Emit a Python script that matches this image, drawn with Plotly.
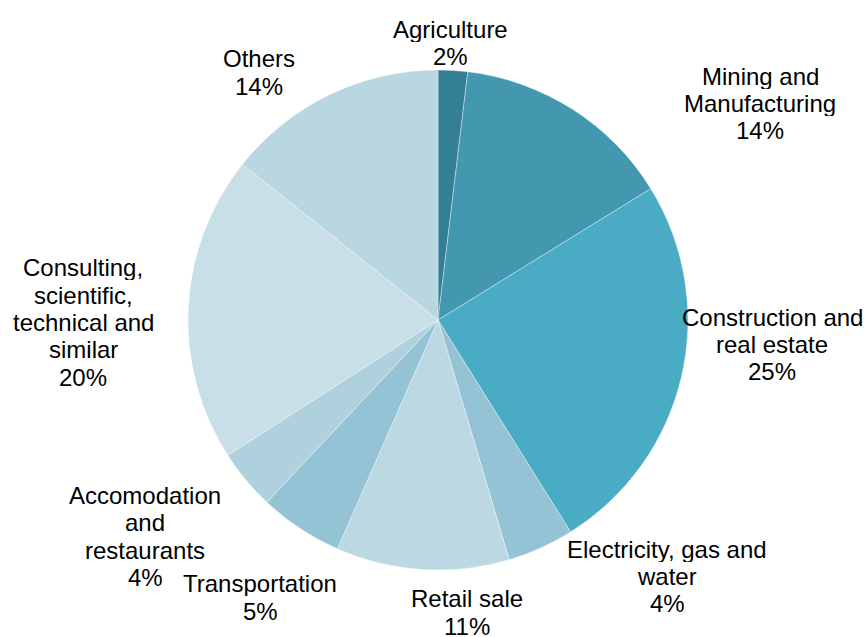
import plotly.graph_objects as go

# ---- data ----
categories = [
    "Agriculture",
    "Mining and<br>Manufacturing",
    "Construction and<br>real estate",
    "Electricity, gas and<br>water",
    "Retail sale",
    "Transportation",
    "Accomodation<br>and<br>restaurants",
    "Consulting,<br>scientific,<br>technical and<br>similar",
    "Others",
]
shares = [1.9, 14.3, 24.9, 4.3, 11.2, 5.4, 3.9, 19.8, 14.3]

# ---- styling ----
colors = ["#357f94", "#4398b0", "#4aabc5", "#93c3d5", "#bcd8e3",
          "#93c3d5", "#afd1dd", "#c8dfe7", "#b9d7e1"]
W, H = 866, 637
# label block centres in pixels (layout only)
label_pos = [(450, 42.5), (760, 103), (772, 344), (667, 576), (467, 612),
             (260, 597), (145, 536), (83, 322), (259, 72)]
line_gap = 27.3
font = dict(family="Liberation Sans, Arial, sans-serif", size=24, color="#000000")

fig = go.Figure(go.Pie(
    labels=[c.replace("<br>", " ") for c in categories],
    values=shares,
    sort=False,
    direction="clockwise",
    rotation=0,
    marker=dict(colors=colors, line=dict(color="rgba(255,255,255,0.6)", width=0.6)),
    textinfo="none",
    showlegend=False,
    domain=dict(x=[188 / W, 688 / W], y=[67 / H, 567 / H]),
))

total = sum(shares)
annotations = []
for cat, val, (px, py) in zip(categories, shares, label_pos):
    lines = cat.split("<br>") + [f"{round(val / total * 100)}%"]
    n = len(lines)
    for i, ln in enumerate(lines):
        y = py + (i - (n - 1) / 2) * line_gap
        annotations.append(dict(
            text=ln, x=px / W, y=1 - y / H, xref="paper", yref="paper",
            xanchor="center", yanchor="middle", showarrow=False, font=font,
            height=26, borderpad=0,
        ))

fig.update_layout(
    width=W, height=H,
    margin=dict(l=0, r=0, t=0, b=0),
    paper_bgcolor="white",
    plot_bgcolor="white",
    annotations=annotations,
)

fig.write_html("out.html",
               config={"displayModeBar": False},
               post_script="document.body.style.margin='0';document.body.style.overflow='hidden';")
